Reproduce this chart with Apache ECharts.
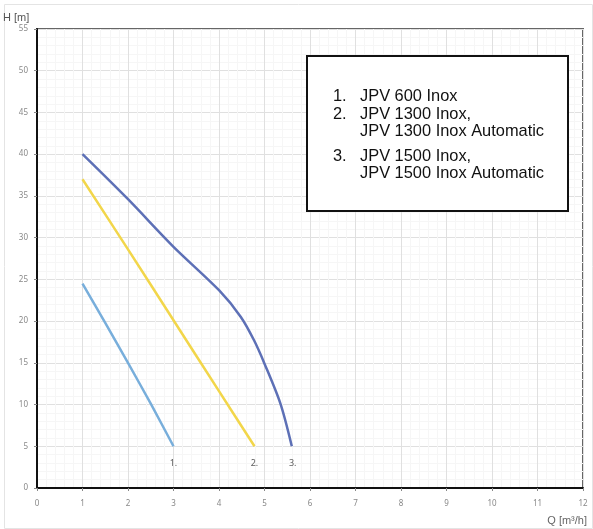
<!DOCTYPE html>
<html><head><meta charset="utf-8">
<script src="https://cdn.jsdelivr.net/npm/echarts@6/dist/echarts.min.js"></script>
<style>html,body{margin:0;padding:0;background:#fff}#c{width:593px;height:529px}</style>
</head><body><div id="c"></div>
<script>
const xTicks = [0,1,2,3,4,5,6,7,8,9,10,11,12];
const yTicks = [0,5,10,15,20,25,30,35,40,45,50,55];
const curve1 = [[1,24.5],[1.5,19.8],[2,15],[2.5,10.1],[3,5]];
const curve2 = [[1,37],[2,28.6],[3,20.1],[4,11.6],[4.78,5]];
const curve3 = [[1,40],[2,34.6],[3,28.9],[4,23.7],[4.48,20.5],[4.77,17.7],[5,14.9],[5.35,10.1],[5.6,5]];
const curveNames = ['1.','2.','3.'];
const curveLabelPts = [[3,2.9],[4.78,2.9],[5.62,2.9]];
const legendLines = [
  ['1.','JPV 600 Inox'],
  ['2.','JPV 1300 Inox,'],
  ['','JPV 1300 Inox Automatic'],
  ['3.','JPV 1500 Inox,'],
  ['','JPV 1500 Inox Automatic']
];
const legendLineY = [95,113,130,155,172];
const colors = ['#78aedb','#f2d64a','#5d70b6'];

const chart = echarts.init(document.getElementById('c'));
const legendTexts = [];
const lfont = '16.4px "Liberation Sans", Arial, sans-serif';
legendLines.forEach((l,i)=>{
  if(l[0]) legendTexts.push({type:'text',left:333,top:legendLineY[i]-7,style:{text:l[0],font:lfont,fill:'#111'}});
  legendTexts.push({type:'text',left:360,top:legendLineY[i]-7,style:{text:l[1],font:lfont,fill:'#111'}});
});
chart.setOption({
  animation:false,
  grid:{left:35,right:10,top:29,bottom:41,show:true,borderColor:'#666',borderWidth:2,backgroundColor:'transparent'},
  xAxis:{type:'value',min:0,max:12,interval:1,
    axisLine:{show:true,onZero:false,lineStyle:{color:'#111',width:2}},
    axisTick:{show:true,length:3,lineStyle:{color:'#888'}},
    axisLabel:{color:'#888',fontSize:8,margin:12,fontFamily:'"Noto Sans", sans-serif'},
    splitLine:{show:true,lineStyle:{color:'#e0e0e0',width:1}},
    minorTick:{show:false,splitNumber:5},
    minorSplitLine:{show:true,lineStyle:{color:'#f6f6f6',width:1}},
    name:'Q [m³/h]',nameLocation:'end',nameGap:0,
    nameTextStyle:{color:'#666',fontSize:11,align:'right',verticalAlign:'top',padding:[27,-4,0,0]}
  },
  yAxis:{type:'value',min:0,max:55,interval:5,
    axisLine:{show:true,onZero:false,lineStyle:{color:'#111',width:2}},
    axisTick:{show:true,length:3,lineStyle:{color:'#888'}},
    axisLabel:{color:'#888',fontSize:8,margin:9,fontFamily:'"Noto Sans", sans-serif'},
    splitLine:{show:true,lineStyle:{color:'#e0e0e0',width:1}},
    minorTick:{show:false,splitNumber:5},
    minorSplitLine:{show:true,lineStyle:{color:'#f6f6f6',width:1}},
    name:'H [m]',nameLocation:'end',nameGap:6,
    nameTextStyle:{color:'#555',fontSize:11,align:'left',padding:[0,0,0,-34]}
  },
  series:[
    {type:'line',data:curve1,smooth:0.2,symbol:'none',lineStyle:{color:colors[0],width:2.5},z:3},
    {type:'line',data:curve2,smooth:0.2,symbol:'none',lineStyle:{color:colors[1],width:2.5},z:3},
    {type:'line',data:curve3,smooth:0.3,symbol:'none',lineStyle:{color:colors[2],width:2.5},z:3},
    {type:'scatter',data:curveLabelPts.map((p,i)=>({value:p,name:curveNames[i]})),symbolSize:0,
      label:{show:true,position:'inside',formatter:p=>p.name,color:'#333',fontSize:9,fontFamily:'"Noto Sans", sans-serif'}}
  ],
  graphic:[
    {type:'rect',left:2,top:2,shape:{width:588,height:524},style:{fill:'none',stroke:'#e4e4e4',lineWidth:1},z:-1},
    {type:'rect',left:306,top:55,shape:{width:261,height:155},style:{fill:'#fff',stroke:'#111',lineWidth:2},z:10},
    ...legendTexts.map(t=>Object.assign(t,{z:11}))
  ]
});
</script></body></html>
